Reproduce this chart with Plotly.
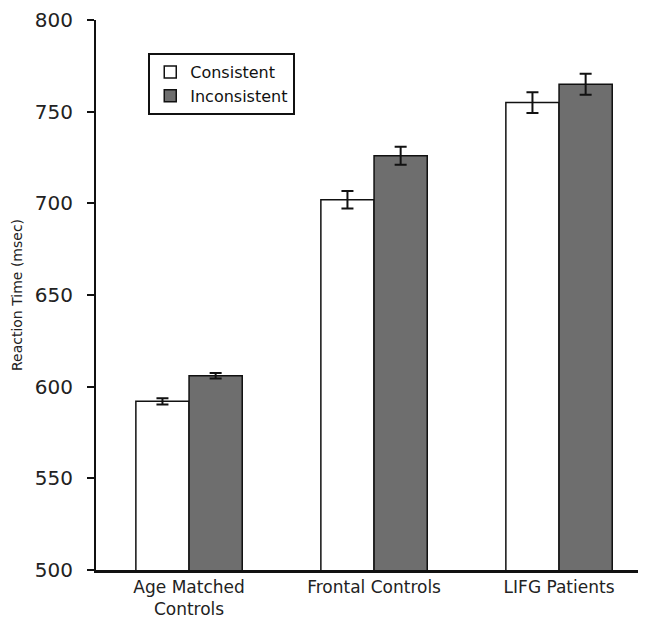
import plotly.graph_objects as go

categories = ["Age Matched<br>Controls", "Frontal Controls", "LIFG Patients"]
consistent = [592, 702, 755]
consistent_err = [1.7, 4.8, 5.7]
inconsistent = [606, 726, 765]
inconsistent_err = [1.5, 4.9, 5.7]
y_ticks = [500, 550, 600, 650, 700, 750, 800]

FONT = "DejaVu Sans"

fig = go.Figure()
fig.add_trace(go.Bar(
    name="Consistent", x=categories, y=consistent,
    marker=dict(color="white", line=dict(color="#111111", width=1.5)),
    error_y=dict(type="data", array=consistent_err, color="#111111", thickness=2, width=6),
))
fig.add_trace(go.Bar(
    name="Inconsistent", x=categories, y=inconsistent,
    marker=dict(color="#6e6e6e", line=dict(color="#111111", width=1.5)),
    error_y=dict(type="data", array=inconsistent_err, color="#111111", thickness=2, width=6),
))

# The page body has an 8px default margin, so the figure is sized/offset for it.
fig.update_layout(
    width=638, height=611,
    margin=dict(l=88, r=0, t=11, b=47),
    paper_bgcolor="white", plot_bgcolor="white",
    barmode="group", bargap=0.425, bargroupgap=0,
    font=dict(family=FONT, color="#222222"),
    legend=dict(
        x=0.095, y=0.940, xanchor="left", yanchor="top",
        bordercolor="#111111", borderwidth=2, bgcolor="white",
        font=dict(size=16, family=FONT, color="#111111"),
        itemwidth=30, tracegroupgap=0,
    ),
    showlegend=True,
)
fig.update_yaxes(
    range=[500, 800.05], tickvals=y_ticks, ticktext=[str(v) for v in y_ticks],
    showgrid=False, zeroline=False,
    showline=True, linecolor="#111111", linewidth=2,
    ticks="outside", ticklen=7, tickwidth=2, tickcolor="#111111",
    ticklabelstandoff=10, ticklabeloverflow="allow",
    tickfont=dict(size=20, family=FONT, color="#222222"),
    title=dict(text="Reaction Time (msec)", font=dict(size=14, family=FONT, color="#222222"), standoff=9),
)
fig.update_xaxes(
    range=[-0.503, 2.47],
    showgrid=False, zeroline=False,
    showline=True, linecolor="#111111", linewidth=2.5,
    ticks="", tickfont=dict(size=17, family=FONT, color="#222222"),
)

fig.write_html("out.html")
